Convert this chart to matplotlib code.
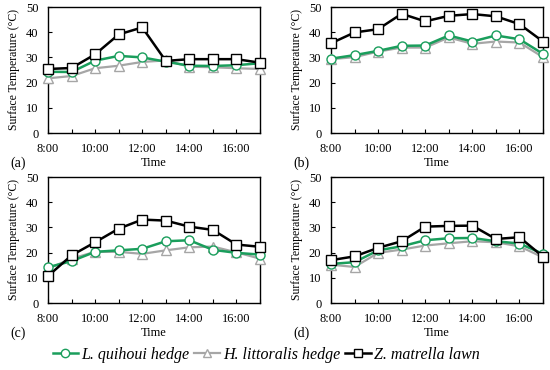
import numpy as np
import matplotlib
matplotlib.use("Agg")
import matplotlib.pyplot as plt
from matplotlib.lines import Line2D

plt.rcParams["font.family"] = ["Liberation Serif", "DejaVu Serif"]

hours = [8, 9, 10, 11, 12, 13, 14, 15, 16, 17]
tick_hours = [8, 10, 12, 14, 16]
tick_labels = ["8:00", "10:00", "12:00", "14:00", "16:00"]

# panel (a)
a_lq = [24.3, 24.2, 28.7, 30.6, 30.0, 28.3, 26.7, 26.6, 26.9, 27.7]
a_hl = [21.7, 22.6, 25.7, 26.7, 28.2, 28.8, 26.3, 26.1, 25.7, 25.4]
a_zm = [25.4, 25.8, 31.2, 39.1, 41.9, 28.6, 29.3, 29.3, 29.3, 27.9]
# panel (b)
b_lq = [29.5, 30.9, 32.6, 34.6, 34.7, 38.7, 36.3, 38.7, 37.2, 31.4]
b_hl = [29.3, 30.1, 32.3, 33.9, 33.9, 37.9, 35.4, 36.3, 35.9, 30.1]
b_zm = [35.6, 39.9, 41.2, 47.3, 44.3, 46.5, 47.2, 46.3, 43.2, 36.3]
# panel (c)
c_lq = [14.2, 16.6, 20.3, 20.9, 21.5, 24.5, 24.9, 21.1, 19.9, 19.2]
c_hl = [13.6, 17.6, 20.3, 20.3, 19.5, 20.9, 22.1, 22.4, 20.1, 17.6]
c_zm = [10.7, 18.9, 24.1, 29.5, 33.1, 32.7, 30.3, 29.0, 23.2, 22.3]
# panel (d)
d_lq = [15.5, 16.2, 20.9, 22.5, 24.9, 25.7, 25.8, 24.5, 23.6, 19.5]
d_hl = [15.2, 14.3, 19.9, 21.2, 22.8, 23.7, 24.5, 24.1, 22.5, 18.1]
d_zm = [17.0, 18.5, 21.9, 24.5, 30.3, 30.6, 30.7, 25.4, 26.1, 18.4]

panels = [("(a)", a_lq, a_hl, a_zm), ("(b)", b_lq, b_hl, b_zm),
          ("(c)", c_lq, c_hl, c_zm), ("(d)", d_lq, d_hl, d_zm)]

green = "#1a9e5c"
gray = "#a6a6a6"

fig = plt.figure(figsize=(5.5, 3.7), dpi=100)
W, H = 550, 370
boxes = [(48, 7), (331, 7), (48, 177), (331, 177)]

for (lab, lq, hl, zm), (x0, y0) in zip(panels, boxes):
    ax = fig.add_axes([x0 / W, 1 - (y0 + 126) / H, 212 / W, 126 / H])
    ax.plot(hours, hl, color=gray, lw=1.6, marker="^", ms=6.5,
            mfc="white", mec=gray, mew=1.0, zorder=3, clip_on=False)
    ax.plot(hours, lq, color=green, lw=1.8, marker="o", ms=6.5,
            mfc="white", mec=green, mew=1.0, zorder=4, clip_on=False)
    ax.plot(hours, zm, color="black", lw=1.8, marker="s", ms=7,
            mfc="white", mec="black", mew=1.0, zorder=5, clip_on=False)
    ax.set_xlim(8, 17)
    ax.set_ylim(0, 50)
    ax.set_yticks([0, 10, 20, 30, 40, 50])
    ax.set_xticks(hours)
    ax.set_xticklabels([tick_labels[tick_hours.index(h)] if h in tick_hours else "" for h in hours])
    ax.tick_params(direction="in", length=3, width=0.8, labelsize=9)
    ax.tick_params(axis="x", pad=7)
    ax.tick_params(axis="y", pad=7)
    for s in ax.spines.values():
        s.set_linewidth(1.0)
    ax.set_xlabel("Time", fontsize=9, labelpad=2)
    ax.set_ylabel("Surface Temperature (°C)", fontsize=8.5, labelpad=4)
    fig.text((x0 - 38) / W, 1 - (y0 + 156) / H, lab, fontsize=10, va="center")

handles = [
    Line2D([], [], color=green, lw=1.8, marker="o", ms=6, mfc="white", mec=green),
    Line2D([], [], color=gray, lw=1.6, marker="^", ms=6, mfc="white", mec=gray),
    Line2D([], [], color="black", lw=1.8, marker="s", ms=6, mfc="white", mec="black"),
]
names = ["L. quihoui hedge", "H. littoralis hedge", "Z. matrella lawn"]
leg = fig.legend(handles, names, loc="center", bbox_to_anchor=(266 / W, 1 - 355 / H),
                 ncol=3, frameon=False, handlelength=1.6, handletextpad=0.2,
                 columnspacing=0.3, prop={"style": "italic", "size": 11.5})

fig.savefig("out.png", dpi=100)
